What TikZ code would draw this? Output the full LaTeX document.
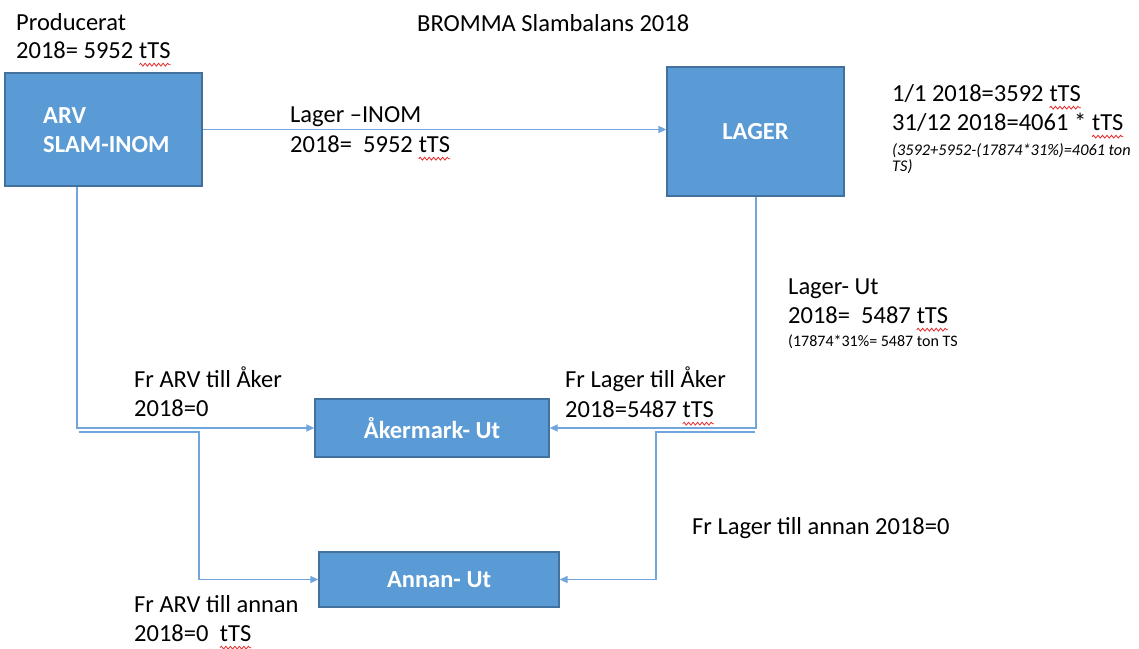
\documentclass[tikz,border=0pt]{standalone}
\usepackage{fontspec}
\setmainfont{Carlito}
\usetikzlibrary{arrows.meta,decorations.pathmorphing}

\definecolor{boxfill}{HTML}{5B9BD5}
\definecolor{boxline}{HTML}{41719C}
\definecolor{flow}{RGB}{112,166,220}
\definecolor{spell}{RGB}{230,40,40}

% word with a red wavy spell-check underline
\newcommand{\wavyword}[1]{\tikz[baseline=(w.base)]{%
  \node[inner sep=0pt,outer sep=0pt] (w) {#1};
  \draw[spell,line width=0.8pt,decorate,
        decoration={snake,amplitude=1.4pt,segment length=4.5pt}]
    ([yshift=-6.5pt]w.south west) -- ([yshift=-6.5pt]w.south east);}}

\tikzset{
  box/.style={draw=boxline,line width=1.3pt,fill=boxfill,rectangle,inner sep=0pt},
  boxtext/.style={text=white,font=\fontsize{24.5}{29.5}\selectfont\bfseries,inner sep=0pt},
  txt/.style={anchor=base west,inner sep=0pt,font=\fontsize{24.5}{29.5}\selectfont},
  smalltxt/.style={anchor=base west,inner sep=0pt,font=\fontsize{16}{18}\selectfont},
  noteit/.style={anchor=base west,inner sep=0pt,font=\fontsize{16.3}{18}\selectfont\itshape},
  conn/.style={draw=flow,line width=1.7pt},
  arr/.style={conn,-{Triangle[length=8pt,width=7pt]}},
}

\begin{document}
\begin{tikzpicture}[x=1pt,y=-1pt]
\useasboundingbox (0,0) rectangle (1139,648);

% process boxes
\node[box,minimum width=197pt,minimum height=113pt] (arv) at (103.5,129.5) {};
\node[boxtext,anchor=base west] (arvA) at (43,123) {ARV};
\node[boxtext,anchor=base west] (arvB) at (43,152) {SLAM-INOM};
\node[box,minimum width=177pt,minimum height=129pt] (lager) at (755.5,131.5) {};
\node[boxtext] (lagerT) at (lager.center) {LAGER};
\node[box,minimum width=234pt,minimum height=58pt] (aker) at (432,428) {};
\node[boxtext] (akerT) at (aker.center) {Åkermark- Ut};
\node[box,minimum width=240pt,minimum height=55pt] (annan) at (439,579.5) {};
\node[boxtext] (annanT) at (annan.center) {Annan- Ut};

% bend points of the flows
\coordinate (la) at (77,428);
\coordinate (lb) at (79,432);
\coordinate (lc) at (199,432);
\coordinate (ra) at (756,428);
\coordinate (rb) at (755,432);
\coordinate (rc) at (656,432);

% flows
\draw[arr] (arv.east) -- (arv.east -| lager.west);
\draw[arr] (arv.south -| la) -- (la) -- (la -| aker.west);
\draw[arr] (lb) -- (lc) -- (lc |- annan.west) -- (annan.west);
\draw[arr] (lager.south -| ra) -- (ra) -- (ra -| aker.east);
\draw[arr] (rb) -- (rc) -- (rc |- annan.east) -- (annan.east);

% title and annotations
\node[txt] (title) at (417,31) {BROMMA Slambalans 2018};
\node[txt] (prodA) at (16,30) {Producerat};
\node[txt] (prodB) at (16,58) {2018= 5952 \wavyword{tTS}};

\node[txt] (inA) at (290,122) {Lager –INOM};
\node[txt] (inB) at (290,152) {2018=\ \ 5952 \wavyword{tTS}};

\node[txt] (stockA) at (892,101) {1/1 2018=3592 \wavyword{tTS}};
\node[txt] (stockB) at (892,130) {31/12 2018=4061 * \wavyword{tTS}};
\node[noteit] (stockC) at (892,155) {(3592+5952-(17874*31\%)=4061 ton};
\node[noteit] (stockD) at (892,171) {TS)};

\node[txt] (outA) at (788,294) {Lager- Ut};
\node[txt] (outB) at (788,323) {2018=\ \ 5487 \wavyword{tTS}};
\node[smalltxt] (outC) at (788,346) {(17874*31\%= 5487 ton TS};

\node[txt] (arvAkA) at (134,387) {Fr ARV till Åker};
\node[txt] (arvAkB) at (134,416) {2018=0};

\node[txt] (lagAkA) at (565,387) {Fr Lager till Åker};
\node[txt] (lagAkB) at (565,417) {2018=5487 \wavyword{tTS}};

\node[txt] (lagAn) at (692,534) {Fr Lager till annan 2018=0};

\node[txt] (arvAnA) at (134,612) {Fr ARV till annan};
\node[txt] (arvAnB) at (134,641) {2018=0\ \ \wavyword{tTS}};
\end{tikzpicture}
\end{document}
